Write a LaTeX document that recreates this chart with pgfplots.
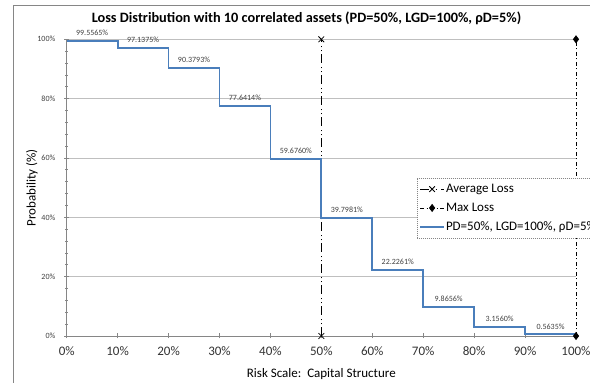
\documentclass[border=0pt]{standalone}
\usepackage{fontspec}
\setmainfont{Carlito}
\usepackage{pgfplots}
\pgfplotsset{compat=1.18}

\definecolor{frameGray}{HTML}{868686}
\definecolor{axisGray}{HTML}{868686}
\definecolor{gridGray}{HTML}{BFBFBF}
\definecolor{stepBlue}{HTML}{4A7EBB}
\definecolor{labelText}{HTML}{404040}

\newcommand{\fs}[1]{\fontsize{#1}{#1}\selectfont}

\begin{document}
\begin{tikzpicture}
\useasboundingbox (0pt,0pt) rectangle (590pt,383pt);
\begin{axis}[
  at={(66.7pt,47pt)}, anchor=south west,
  scale only axis, width=509.3pt, height=296.7pt,
  xmin=0, xmax=100, ymin=0, ymax=100,
  axis x line*=bottom, axis y line*=left,
  axis line style={axisGray, line width=0.9pt, -},
  clip=false,
  xtick={0,10,...,100},
  xticklabels={0\%,10\%,20\%,30\%,40\%,50\%,60\%,70\%,80\%,90\%,100\%},
  ytick={0,20,...,100},
  yticklabels={0\%,20\%,40\%,60\%,80\%,100\%},
  minor y tick num=4,
  tick align=center,
  major tick length=5pt, minor tick length=3pt,
  every tick/.style={axisGray, line width=0.7pt},
  ymajorgrids,
  major grid style={gridGray, line width=0.9pt},
  xticklabel style={font=\fs{13}, text=black!80, anchor=center, yshift=-13pt},
  yticklabel style={font=\fs{8}, text=labelText, anchor=east, inner sep=0pt, xshift=-8.7pt},
  title={Loss Distribution with 10 correlated assets (PD=50\%, LGD=100\%, ρD=5\%)},
  title style={at={(axis description cs:0.4708,1.052)}, anchor=center, font=\fs{14.3}\bfseries},
  xlabel={Risk Scale:\ \ Capital Structure},
  xlabel style={at={(axis description cs:0.5,-0.1203)}, anchor=center, yshift=-2pt, font=\fs{13}},
  ylabel={Probability (\%)},
  ylabel style={at={(axis description cs:-0.0681,0.5)}, anchor=center, font=\fs{13}},
  legend cell align=left,
  legend image code/.code={\draw[mark repeat=2,mark phase=2,#1] plot coordinates {(0pt,0pt)(12pt,0pt)(24pt,0pt)};},
  legend style={name=leg, at={(axis description cs:0.6878,0.5325)}, anchor=north west,
    draw=none, fill=white,
    font=\fs{13}, row sep=7pt, inner xsep=2pt, inner ysep=5pt,
    nodes={inner sep=1pt}},
]
% chart area border, placed from the plot area
\draw[frameGray, line width=1pt]
  (axis description cs:-0.1048,-0.2) -- (axis description cs:-0.1048,1.1133)
  -- (axis description cs:1.2,1.1133);
% average loss marker line
\addplot[black, line width=0.7pt, dash pattern=on 8.5pt off 3pt on 1pt off 3pt on 1pt off 4.5pt,
  mark=x, mark size=4pt, mark options={solid, line width=0.8pt}]
  coordinates {(50,0) (50,100)};
\addlegendentry{Average Loss}
% maximum loss marker line
\addplot[black, line width=0.7pt, dash pattern=on 4pt off 2.5pt on 1pt off 2.5pt,
  mark=diamond*, mark size=3.5pt, mark options={solid}]
  coordinates {(100,0) (100,100)};
\addlegendentry{Max Loss}
% cumulative loss distribution
\addplot[const plot, stepBlue, line width=1.8pt]
  coordinates {(0,99.5565) (10,97.1375) (20,90.3793) (30,77.6414) (40,59.6760)
               (50,39.7981) (60,22.2261) (70,9.8656) (80,3.1560) (90,0.5635) (100,0.5635)};
\addlegendentry{PD=50\%, LGD=100\%, ρD=5\%}
% value labels over each step
\addplot[only marks, mark=none, forget plot,
  point meta=explicit symbolic,
  nodes near coords={\pgfplotspointmeta\%},
  every node near coord/.style={font=\fs{8}, text=labelText, anchor=south, inner sep=0pt, yshift=5pt}]
  coordinates {(5,99.5565)[99.5565] (15,97.1375)[97.1375] (25,90.3793)[90.3793]
               (35,77.6414)[77.6414] (45,59.6760)[59.6760] (55,39.7981)[39.7981]
               (65,22.2261)[22.2261] (75,9.8656)[9.8656] (85,3.1560)[3.1560]
               (95,0.5635)[0.5635]};
\end{axis}
% dotted legend border
\draw[axisGray, line width=0.6pt, dash pattern=on 1pt off 1pt]
  (leg.south west) rectangle (leg.north east);
\end{tikzpicture}
\end{document}
